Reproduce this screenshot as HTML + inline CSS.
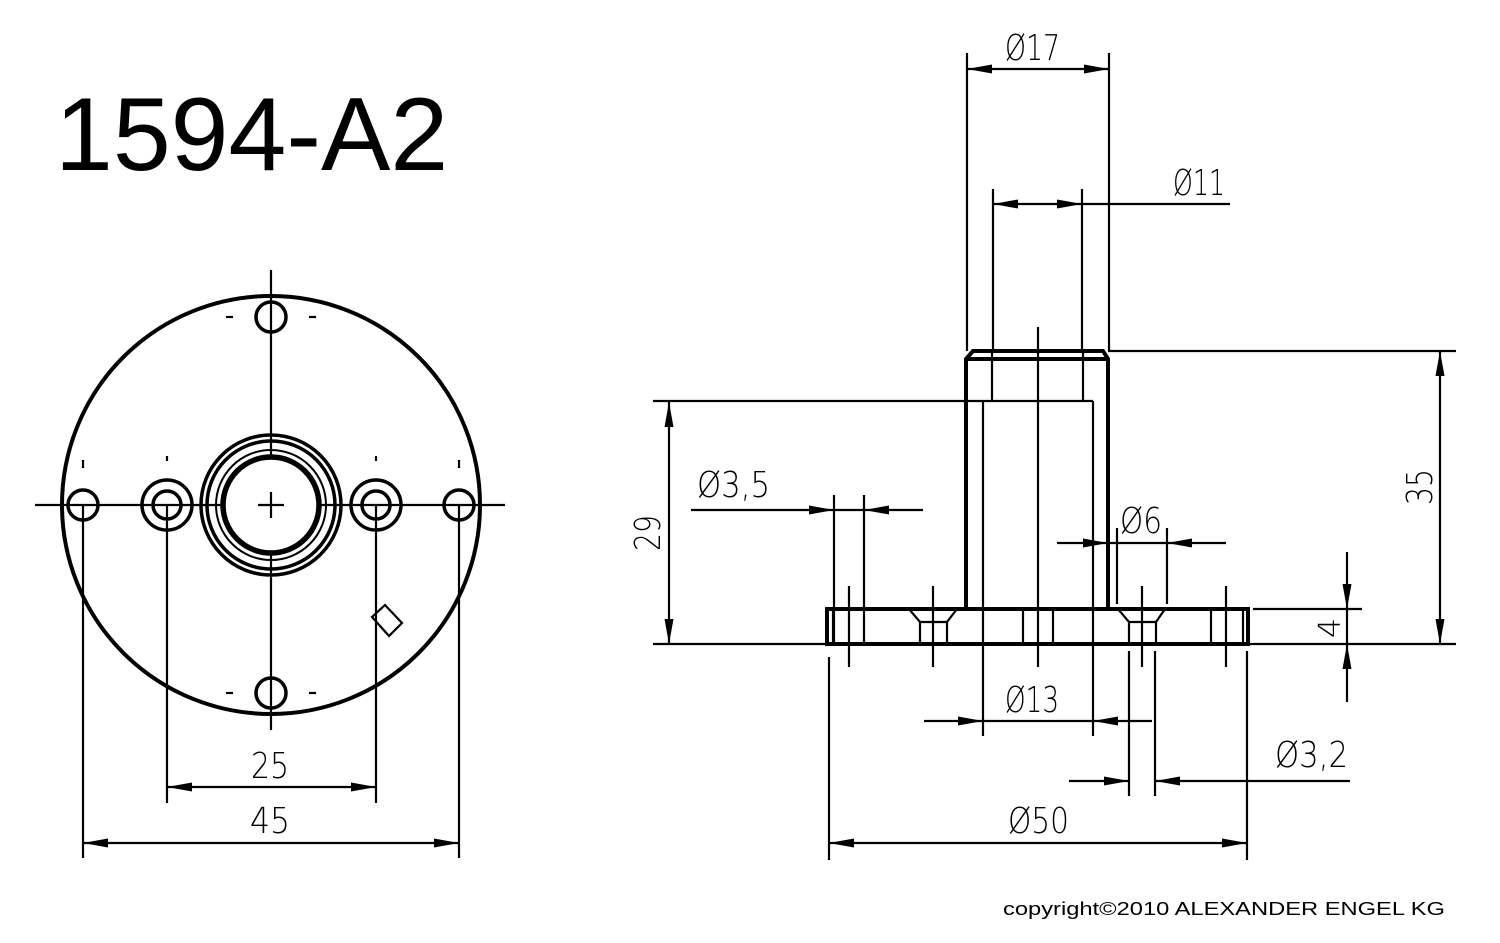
<!DOCTYPE html>
<html><head><meta charset="utf-8"><style>
html,body{margin:0;padding:0;background:#fff}
svg{display:block}
text{font-family:"DejaVu Sans ExtraLight","DejaVu Sans Light","DejaVu Sans","Liberation Sans",sans-serif;font-weight:200;fill:#000}
</style></head><body>
<svg width="1500" height="943" viewBox="0 0 1500 943" xmlns="http://www.w3.org/2000/svg">
<defs>
<marker id="a" viewBox="0 -5 25 10" refX="25" refY="0" markerWidth="25" markerHeight="10" markerUnits="userSpaceOnUse" orient="auto-start-reverse">
<path d="M0,-4.5 L25,0 L0,4.5 z" fill="#000"/></marker>
</defs>
<text x="55" y="170" font-size="104" style="font-family:'Liberation Sans',sans-serif;font-weight:400">1594-A2</text>
<text x="1003" y="915" font-size="18" style="font-family:'Liberation Sans',sans-serif;font-weight:400" textLength="442" lengthAdjust="spacingAndGlyphs">copyright©2010 ALEXANDER ENGEL KG</text>

<!-- LEFT VIEW -->
<g stroke="#000" fill="none">
<circle cx="271" cy="505" r="209" stroke-width="4"/>
<circle cx="271" cy="505" r="70" stroke-width="3.5"/>
<circle cx="271" cy="505" r="64" stroke-width="3.5"/>
<circle cx="271" cy="505" r="55" stroke-width="2"/>
<circle cx="271" cy="505" r="48" stroke-width="5.5"/>
<circle cx="271" cy="317" r="15" stroke-width="3.5"/>
<circle cx="271" cy="693" r="15" stroke-width="3.5"/>
<circle cx="83" cy="505" r="15" stroke-width="3.5"/>
<circle cx="459" cy="505" r="15" stroke-width="3.5"/>
<circle cx="167" cy="505" r="25" stroke-width="3.5"/>
<circle cx="167" cy="505" r="14" stroke-width="3.5"/>
<circle cx="376" cy="505" r="25" stroke-width="3.5"/>
<circle cx="376" cy="505" r="14" stroke-width="3.5"/>
<g stroke-width="2.2">
<line x1="35" y1="505" x2="224" y2="505"/><line x1="319" y1="505" x2="505" y2="505"/>
<line x1="271" y1="270" x2="271" y2="458"/><line x1="271" y1="553" x2="271" y2="730"/>
<line x1="258" y1="505" x2="284" y2="505"/><line x1="271" y1="492" x2="271" y2="518"/>
<line x1="83" y1="505" x2="83" y2="858"/><line x1="459" y1="505" x2="459" y2="858"/>
<line x1="167" y1="505" x2="167" y2="803"/><line x1="376" y1="505" x2="376" y2="803"/>
<line x1="83" y1="460" x2="83" y2="468"/><line x1="459" y1="460" x2="459" y2="468"/>
<line x1="167" y1="456" x2="167" y2="461"/><line x1="376" y1="456" x2="376" y2="461"/>
<line x1="226" y1="317" x2="233" y2="317"/><line x1="309" y1="317" x2="316" y2="317"/>
<line x1="226" y1="693" x2="233" y2="693"/><line x1="309" y1="693" x2="316" y2="693"/>
<polygon points="372,617 385,605 402,623 389,636"/>
<line x1="167" y1="787" x2="376" y2="787" marker-start="url(#a)" marker-end="url(#a)"/>
<line x1="83" y1="843" x2="459" y2="843" marker-start="url(#a)" marker-end="url(#a)"/>
</g>
</g>
<text x="251" y="778" font-size="36" textLength="38" lengthAdjust="spacingAndGlyphs">25</text>
<text x="250" y="833" font-size="36" textLength="40" lengthAdjust="spacingAndGlyphs">45</text>

<!-- RIGHT VIEW -->
<g stroke="#000" fill="none">
<g stroke-width="4">
<polyline points="966,609 966,359 973,351 1103,351 1108,359 1108,609"/>
<line x1="966" y1="359" x2="1108" y2="359"/>
<rect x="827" y="609" width="421" height="35"/>
</g>
<g stroke-width="2.2">
<line x1="992" y1="351" x2="992" y2="401"/><line x1="1083" y1="351" x2="1083" y2="401"/>
<line x1="653" y1="401" x2="1093" y2="401"/>
<line x1="983" y1="401" x2="983" y2="736"/><line x1="1093" y1="401" x2="1093" y2="736"/>
<line x1="1038" y1="327" x2="1038" y2="667"/>
<line x1="833" y1="609" x2="833" y2="644"/><line x1="1243" y1="609" x2="1243" y2="644"/>
<line x1="849" y1="586" x2="849" y2="667"/>
<line x1="834" y1="495" x2="834" y2="644"/><line x1="864" y1="495" x2="864" y2="644"/>
<line x1="933" y1="586" x2="933" y2="667"/>
<polyline points="909,609 920,622 920,644"/><polyline points="957,609 947,622 947,644"/>
<line x1="920" y1="622" x2="947" y2="622"/>
<line x1="1023" y1="609" x2="1023" y2="644"/><line x1="1053" y1="609" x2="1053" y2="644"/>
<polyline points="1118,609 1129,622 1129,644"/><polyline points="1165,609 1156,622 1156,644"/>
<line x1="1129" y1="622" x2="1156" y2="622"/>
<line x1="1129" y1="651" x2="1129" y2="796"/><line x1="1155" y1="651" x2="1155" y2="796"/>
<line x1="1142" y1="586" x2="1142" y2="667"/>
<line x1="1117" y1="528" x2="1117" y2="604"/><line x1="1167" y1="528" x2="1167" y2="604"/>
<line x1="1211" y1="609" x2="1211" y2="644"/><line x1="1226" y1="586" x2="1226" y2="667"/>
<line x1="829" y1="657" x2="829" y2="860"/><line x1="1247" y1="651" x2="1247" y2="860"/>
<line x1="653" y1="644" x2="827" y2="644"/><line x1="1248" y1="644" x2="1456" y2="644"/>
<line x1="1108" y1="351" x2="1456" y2="351"/>
<line x1="1253" y1="609" x2="1362" y2="609"/>
<line x1="967" y1="53" x2="967" y2="351"/><line x1="1109" y1="53" x2="1109" y2="351"/>
<line x1="993" y1="189" x2="993" y2="351"/><line x1="1082" y1="189" x2="1082" y2="351"/>
<line x1="967" y1="69" x2="1109" y2="69" marker-start="url(#a)" marker-end="url(#a)"/>
<line x1="993" y1="204" x2="1082" y2="204" marker-start="url(#a)" marker-end="url(#a)"/>
<line x1="1082" y1="204" x2="1230" y2="204"/>
<line x1="924" y1="721" x2="983" y2="721" marker-end="url(#a)"/>
<line x1="1152" y1="721" x2="1093" y2="721" marker-end="url(#a)"/>
<line x1="983" y1="721" x2="1093" y2="721"/>
<line x1="1069" y1="781" x2="1129" y2="781" marker-end="url(#a)"/>
<line x1="1350" y1="781" x2="1155" y2="781" marker-end="url(#a)"/>
<line x1="829" y1="843" x2="1247" y2="843" marker-start="url(#a)" marker-end="url(#a)"/>
<line x1="691" y1="510" x2="834" y2="510" marker-end="url(#a)"/>
<line x1="923" y1="510" x2="864" y2="510" marker-end="url(#a)"/>
<line x1="834" y1="510" x2="864" y2="510"/>
<line x1="1057" y1="543" x2="1108" y2="543" marker-end="url(#a)"/>
<line x1="1226" y1="543" x2="1167" y2="543" marker-end="url(#a)"/>
<line x1="1108" y1="543" x2="1167" y2="543"/>
<line x1="1440" y1="351" x2="1440" y2="644" marker-start="url(#a)" marker-end="url(#a)"/>
<line x1="1347" y1="552" x2="1347" y2="609" marker-end="url(#a)"/>
<line x1="1347" y1="702" x2="1347" y2="644" marker-end="url(#a)"/>
<line x1="1347" y1="609" x2="1347" y2="644"/>
<line x1="669" y1="402" x2="669" y2="644" marker-start="url(#a)" marker-end="url(#a)"/>
</g>
</g>
<g font-size="36">
<text x="1005" y="60" textLength="55" lengthAdjust="spacingAndGlyphs">Ø17</text>
<text x="1173" y="195" textLength="52" lengthAdjust="spacingAndGlyphs">Ø11</text>
<text x="1005" y="712" textLength="54" lengthAdjust="spacingAndGlyphs">Ø13</text>
<text x="1008" y="833" textLength="61" lengthAdjust="spacingAndGlyphs">Ø50</text>
<text x="1275" y="767" textLength="73" lengthAdjust="spacingAndGlyphs">Ø3,2</text>
<text x="1120" y="533" textLength="42" lengthAdjust="spacingAndGlyphs">Ø6</text>
<text x="697" y="497" textLength="73" lengthAdjust="spacingAndGlyphs">Ø3,5</text>
<text transform="translate(1432,505) rotate(-90)" textLength="36" lengthAdjust="spacingAndGlyphs">35</text>
<text transform="translate(660,551) rotate(-90)" textLength="36" lengthAdjust="spacingAndGlyphs">29</text>
<text transform="translate(1340,638) rotate(-90)" font-size="30" textLength="20" lengthAdjust="spacingAndGlyphs">4</text>
</g>
</svg>
</body></html>
